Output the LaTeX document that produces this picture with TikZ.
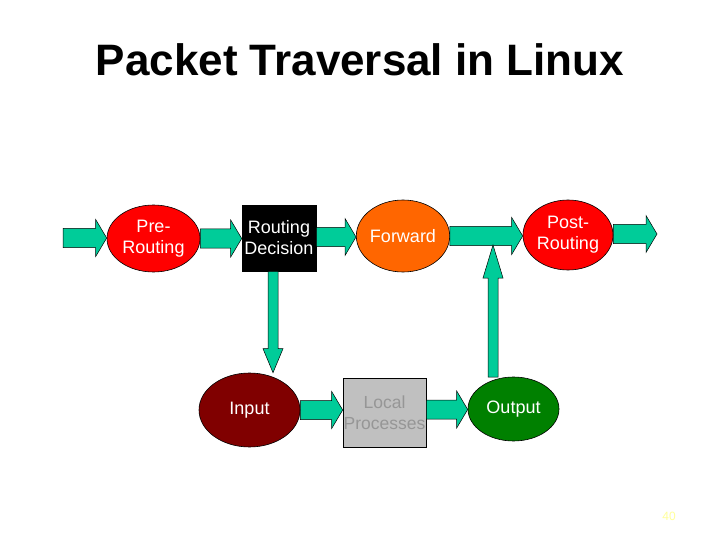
\documentclass[tikz,border=0pt]{standalone}
\usepackage{fontspec}
\setmainfont{Liberation Sans}
\usetikzlibrary{calc,shapes.geometric}
\definecolor{teal1}{HTML}{00CC99}
\definecolor{maroon1}{HTML}{800000}
\definecolor{green1}{HTML}{008000}
\definecolor{orange1}{HTML}{FF6600}
\definecolor{gray1}{HTML}{C0C0C0}
\definecolor{gray2}{HTML}{969696}
\definecolor{yellow1}{HTML}{FFFF99}
\tikzset{
  oval/.style={ellipse, draw=black, line width=0.6pt, inner sep=0pt, text=white, align=center, font=\fontsize{18}{21}\selectfont},
  box/.style={rectangle, draw=black, line width=0.6pt, inner sep=0pt, align=center, font=\fontsize{18}{21}\selectfont},
  farrow/.style={draw=black, fill=teal1, line width=0.5pt, line join=miter}
}
% horizontal fat arrow from #1 to #2 (y of #1)
\newcommand\harrow[2]{%
  \draw[farrow] let \p1=(#1), \p2=(#2) in
    (\x1,\y1-9.5pt) -- (\x2-11pt,\y1-9.5pt) -- (\x2-11pt,\y1-18.5pt) -- (\x2,\y1)
    -- (\x2-11pt,\y1+18.5pt) -- (\x2-11pt,\y1+9.5pt) -- (\x1,\y1+9.5pt) -- cycle;}
% vertical fat arrow from #1 to #2 (x of #1), head length #3
\newcommand\varrow[3]{%
  \draw[farrow] let \p1=(#1), \p2=(#2), \n1={sign(\y2-\y1)} in
    (\x1-5pt,\y1) -- (\x1-5pt,\y2-\n1*#3) -- (\x1-10pt,\y2-\n1*#3) -- (\x1,\y2)
    -- (\x1+10pt,\y2-\n1*#3) -- (\x1+5pt,\y2-\n1*#3) -- (\x1+5pt,\y1) -- cycle;}
\begin{document}
\begin{tikzpicture}[x=1pt,y=-1pt]
\useasboundingbox (0,0) rectangle (720,540);
\node[anchor=base, font=\fontsize{44}{50}\selectfont\bfseries] (title) at (360,76) {Packet Traversal in Linux};

\node[oval, fill=red, minimum width=93pt, minimum height=67pt] (pre) at (153.5,238.5) {Pre-\\Routing};
\node[box, fill=black, text=white, minimum width=74pt, minimum height=66pt] (rd) at (279,238) {Routing\\Decision};
\node[oval, fill=orange1, minimum width=90pt, minimum height=72pt] (fwd) at (403,236) {Forward};
\node[oval, fill=red, minimum width=90pt, minimum height=70pt] (post) at (568,235) {Post-\\Routing};
\node[oval, fill=maroon1, minimum width=101pt, minimum height=74pt] (input) at (249.5,410) {Input};
\node[box, fill=gray1, text=gray2, minimum width=83pt, minimum height=69pt, font=\fontsize{17.5}{21}\selectfont] (local) at (384.5,412.5) {Local\\Processes};
\node[oval, fill=green1, minimum width=91pt, minimum height=64pt] (output) at (513.5,409) {Output};

\coordinate (src) at (63,238);
\coordinate (sink) at (657,234);
\coordinate (dstart) at ($(rd.south)+(-6,0)$);
\coordinate (ustart) at (493,377);
\coordinate (utip) at (493,245);

\harrow{src}{pre.west}
\harrow{pre.east}{rd.west}
\harrow{$(rd.east)+(0,-1)$}{fwd.west}
\harrow{fwd.east}{post.west}
\harrow{$(post.east)+(0,-1)$}{sink}
\harrow{input.east}{local.west}
\harrow{$(local.east)+(0,-3)$}{output.west}
\varrow{dstart}{$(dstart |- input.north)$}{24}
\varrow{ustart}{utip}{33}

\node[font=\fontsize{12}{14}\selectfont, text=yellow1] (pg) at (669,516) {40};
\end{tikzpicture}
\end{document}
